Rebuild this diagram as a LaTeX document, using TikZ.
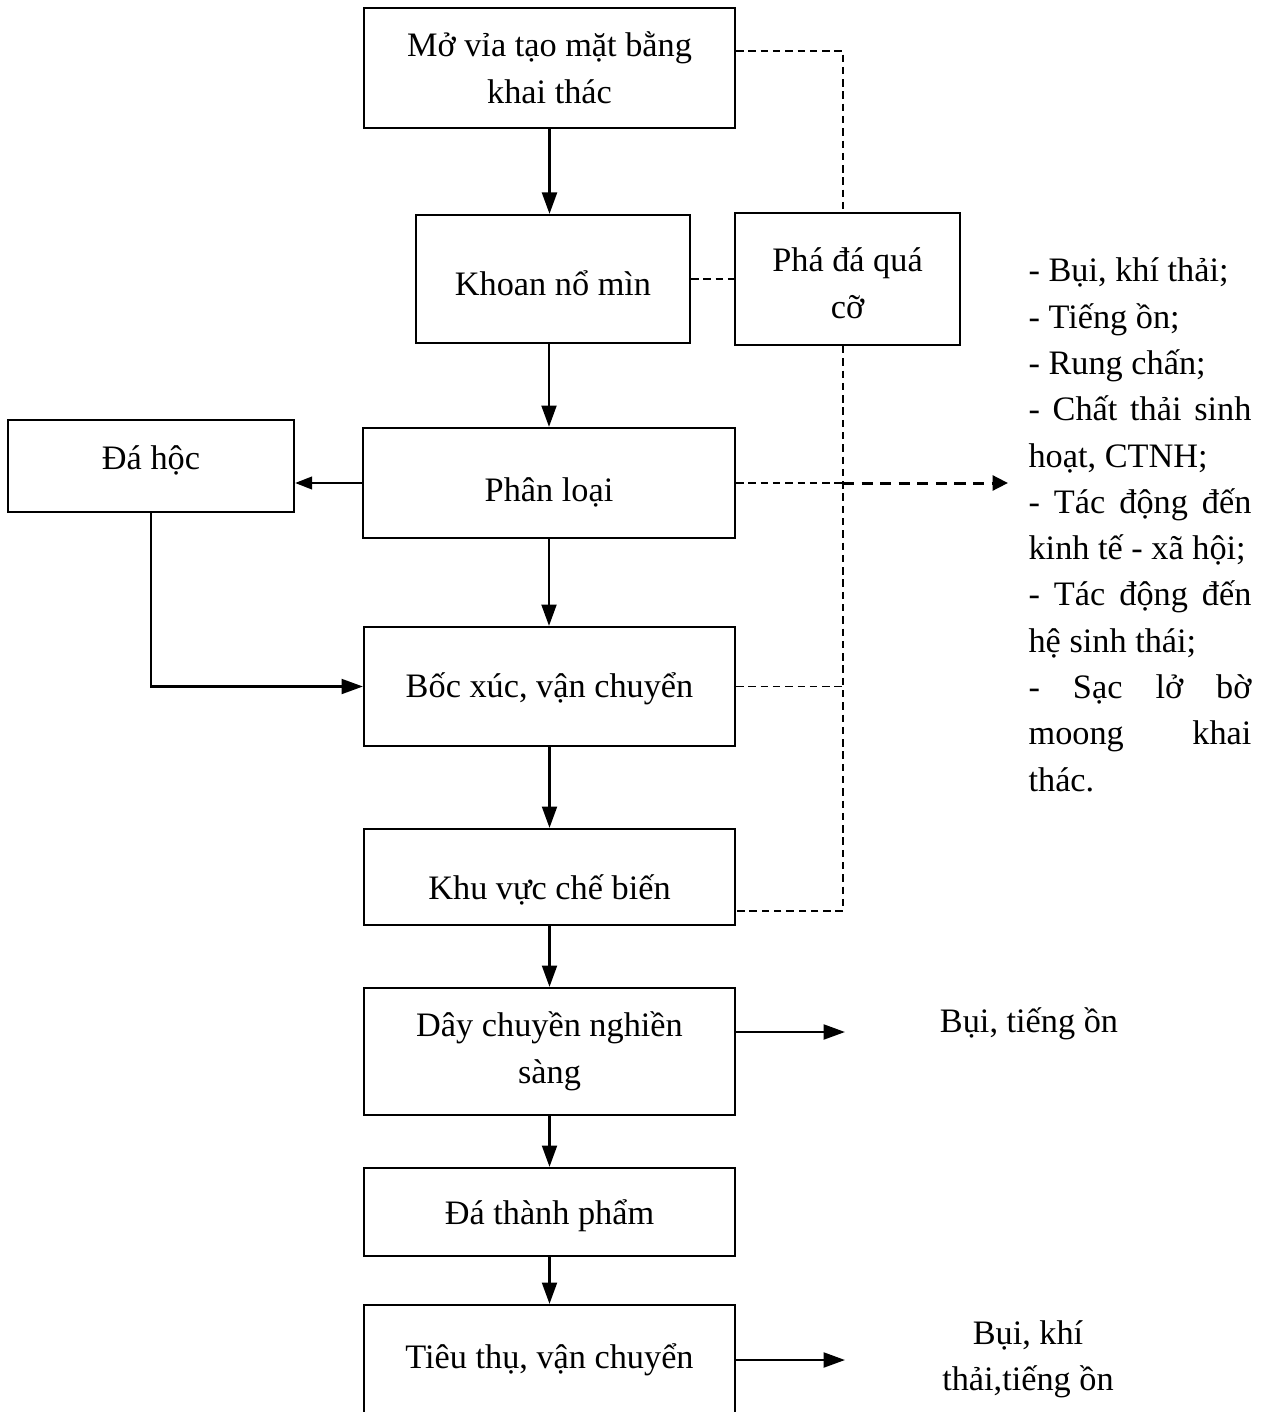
\documentclass[tikz,border=0pt]{standalone}
\usepackage{fontspec}
\setmainfont{Liberation Serif}
\usetikzlibrary{arrows.meta,calc}
\begin{document}
\begin{tikzpicture}[x=0.35pt,y=-0.35pt,
  box/.style={draw, line width=0.75pt, inner sep=0pt, align=center,
    font=\fontsize{12}{16.4}\selectfont},
  txt/.style={inner sep=0pt, align=center, font=\fontsize{12}{16.2}\selectfont},
  arr/.style={line width=0.9pt, -{Triangle[length=7.5pt,width=5.2pt]}},
  arrsmall/.style={line width=0.9pt, -{Triangle[length=6pt,width=4.4pt]}},
  thindash/.style={line width=0.6pt, dash pattern=on 2.6pt off 1.7pt},
  thickdash/.style={line width=1.05pt, dash pattern=on 3.9pt off 2.6pt,
    -{Triangle[length=5.4pt,width=5.2pt]}}]
\useasboundingbox (0,0) rectangle (1270,1412);

% boxes
\node[box, minimum width=129.85pt, minimum height=42pt] (b1) at (549.5,68) {Mở vỉa tạo mặt bằng\\khai thác};
\node[box, minimum width=95.9pt, minimum height=44.8pt] (b2) at (553,279) {\raisebox{-1.4pt}[\height][\depth]{Khoan nổ mìn}};
\node[box, minimum width=78.75pt, minimum height=46.2pt] (b3) at (847.5,279) {\raisebox{-1.4pt}[\height][\depth]{Phá đá quá}\\\raisebox{-1.4pt}[\height][\depth]{cỡ}};
\node[box, minimum width=100.1pt, minimum height=32.2pt] (b4) at (151,466) {\raisebox{2pt}[\height][\depth]{Đá hộc}};
\node[box, minimum width=130.2pt, minimum height=38.5pt] (b5) at (549,483) {\raisebox{-3.2pt}[\height][\depth]{Phân loại}};
\node[box, minimum width=129.85pt, minimum height=41.65pt] (b6) at (549.5,686.5) {\raisebox{-0.7pt}[\height][\depth]{Bốc xúc, vận chuyển}};
\node[box, minimum width=129.85pt, minimum height=33.6pt] (b7) at (549.5,877) {\raisebox{-4.4pt}[\height][\depth]{Khu vực chế biến}};
\node[box, minimum width=129.85pt, minimum height=44.45pt] (b8) at (549.5,1051.5) {Dây chuyền nghiền\\sàng};
\node[box, minimum width=129.85pt, minimum height=30.8pt] (b9) at (549.5,1212) {\raisebox{-1.2pt}[\height][\depth]{Đá thành phẩm}};
\node[box, minimum width=129.85pt, minimum height=54.25pt] (b10) at (549.5,1382.5) {\raisebox{8pt}[\height][\depth]{Tiêu thụ, vận chuyển}};

% texts on the right
\node[txt, align=justify, text width=78pt, anchor=base west] (list) at (1028,282)
 {- Bụi, khí thải;\\
  - Tiếng ồn;\\
  - Rung chấn;\\
  - Chất thải sinh\linebreak hoạt, CTNH;\\
  - Tác động đến\linebreak kinh tế - xã hội;\\
  - Tác động đến\linebreak hệ sinh thái;\\
  - Sạc lở bờ\linebreak moong khai\linebreak thác.};
\node[txt, anchor=base] (n8) at (1029,1032) {Bụi, tiếng ồn};
\node[txt] (n10) at (1028,1359) {Bụi, khí\\thải,tiếng ồn};

% solid connectors
\draw[arr] (b1.south) -- (b1.south |- b2.north);
\draw[arr] (b2.south -| b5.north) -- (b5.north);
\draw[arr] (b5.south) -- (b5.south |- b6.north);
\draw[arr] (b6.south) -- (b7.north);
\draw[arr] (b7.south) -- (b8.north);
\draw[arr] (b8.south) -- (b9.north);
\draw[arr] (b9.south) -- (b10.north);
\draw[arrsmall] (b5.west) -- (b5.west -| b4.east);
\draw[arr] (b4.south) -- (b4.south |- b6.west) -- (b6.west);

\coordinate (e8) at (845,1032);
\coordinate (e10) at (845,1360);
\draw[arr] (b8.east |- e8) -- (e8);
\draw[arr] (b10.east |- e10) -- (e10);

% dashed connectors
\coordinate (col) at (843,0);
\coordinate (d1) at ($(b1.north east)+(0,44)$);
\coordinate (d7) at ($(b7.south east)+(0,-15)$);
\coordinate (tip5) at (1008,483);
\draw[thindash] (d1) -- (d1 -| col) -- (col |- b3.north);
\draw[thindash] (b2.east) -- (b3.west);
\draw[thindash] (col |- b3.south) -- (col |- d7) -- (d7);
\draw[thindash] (b6.east) -- (b6.east -| col);
\draw[thindash] (b5.east) -- (b5.east -| col);
\draw[thickdash] (b5.east -| col) -- (tip5);
\end{tikzpicture}
\end{document}
